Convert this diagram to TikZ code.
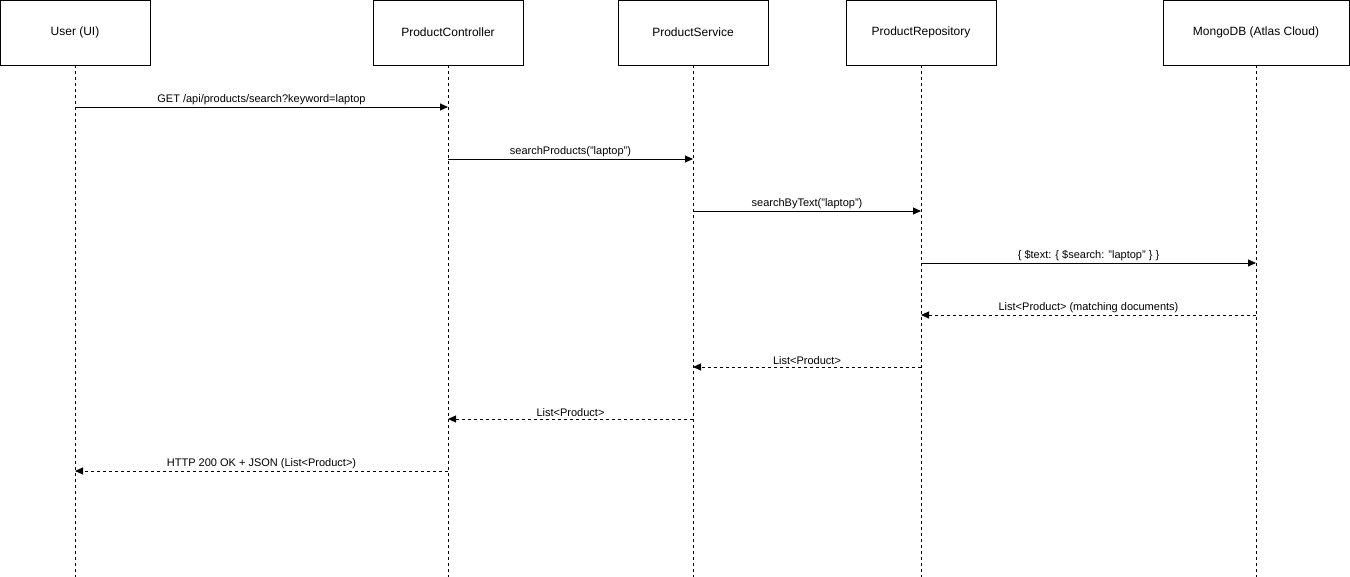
\documentclass[tikz,border=0pt]{standalone}
\usepackage{fontspec}
\setmainfont{Liberation Sans}
\usetikzlibrary{arrows.meta}
\begin{document}
\begin{tikzpicture}[x=1pt,y=-1pt,
  actor/.style={draw=black,line width=0.9pt,fill=white,minimum height=65pt,inner sep=0pt,font=\fontsize{12}{14}\selectfont},
  lifeline/.style={draw=black,line width=0.9pt,dash pattern=on 3pt off 3pt},
  call/.style={draw=black,line width=0.9pt,-{Triangle[length=8pt,width=7pt]}},
  reply/.style={draw=black,line width=0.9pt,dash pattern=on 3pt off 3pt,-{Triangle[length=8pt,width=7pt]}},
  msg/.style={font=\fontsize{11}{13}\selectfont,above=1pt,inner sep=1pt}]
\useasboundingbox (0,0) rectangle (1350,577);
% participants
\node[actor,minimum width=150pt] (user) at (75,32.5) {User (UI)};
\node[actor,minimum width=150pt] (ctrl) at (448,32.5) {ProductController};
\node[actor,minimum width=150pt] (svc) at (693,32.5) {ProductService};
\node[actor,minimum width=150pt] (repo) at (921,32.5) {ProductRepository};
\node[actor,minimum width=186pt] (db) at (1256,32.5) {MongoDB (Atlas Cloud)};
% lifeline ends
\foreach \n/\x in {user/75,ctrl/448,svc/693,repo/921,db/1256}{
  \coordinate (\n-end) at (\x,577);
  \draw[lifeline] (\n.south) -- (\n-end);
  \foreach \y in {107,159,211,263,315,367,419,471}{\coordinate (\n-\y) at (\x,\y);}
}
% messages
\draw[call] (user-107) -- node[msg]{GET /api/products/search?keyword=laptop} (ctrl-107);
\draw[call] (ctrl-159) -- node[msg]{searchProducts("laptop")} (svc-159);
\draw[call] (svc-211) -- node[msg]{searchByText("laptop")} (repo-211);
\draw[call] (repo-263) -- node[msg]{\{ \$text: \{ \$search: "laptop" \} \}} (db-263);
\draw[reply] (db-315) -- node[msg]{List<Product> (matching documents)} (repo-315);
\draw[reply] (repo-367) -- node[msg]{List<Product>} (svc-367);
\draw[reply] (svc-419) -- node[msg]{List<Product>} (ctrl-419);
\draw[reply] (ctrl-471) -- node[msg]{HTTP 200 OK + JSON (List<Product>)} (user-471);
\end{tikzpicture}
\end{document}
